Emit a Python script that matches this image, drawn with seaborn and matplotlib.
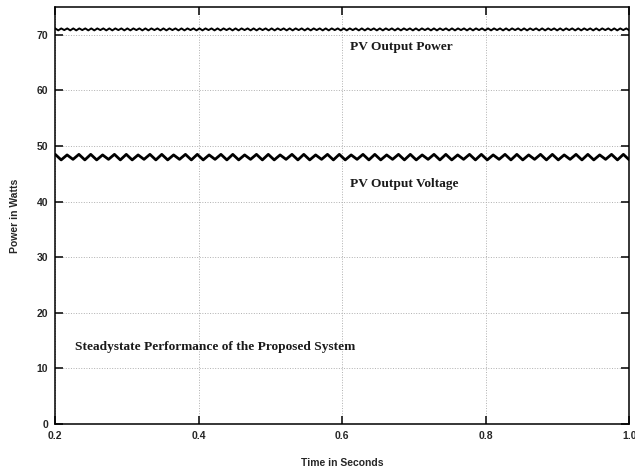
import numpy as np
import pandas as pd
import matplotlib
matplotlib.use("Agg")
import matplotlib.pyplot as plt
import seaborn as sns

# time window of the simulation trace
t_start, t_end = 0.2, 1.0

# PV output voltage ripple: alternating crest / trough values (one pair per cycle)
voltage_crests = [48.5, 48.4, 48.5, 48.5, 48.4, 48.5, 48.5, 48.4, 48.5, 48.5,
                  48.4, 48.5, 48.5, 48.4, 48.5, 48.5, 48.4, 48.5, 48.5, 48.4,
                  48.5, 48.5, 48.4, 48.5, 48.5, 48.4, 48.5, 48.5, 48.4, 48.5,
                  48.5, 48.4, 48.5, 48.5, 48.4, 48.5, 48.5, 48.4, 48.5, 48.5,
                  48.4, 48.5, 48.5, 48.4, 48.5, 48.5, 48.4, 48.5, 48.5]
voltage_troughs = [47.5, 47.6, 47.5, 47.5, 47.6, 47.5, 47.5, 47.6, 47.5, 47.5,
                   47.6, 47.5, 47.5, 47.6, 47.5, 47.5, 47.6, 47.5, 47.5, 47.6,
                   47.5, 47.5, 47.6, 47.5, 47.5, 47.6, 47.5, 47.5, 47.6, 47.5,
                   47.5, 47.6, 47.5, 47.5, 47.6, 47.5, 47.5, 47.6, 47.5, 47.5,
                   47.6, 47.5, 47.5, 47.6, 47.5, 47.5, 47.6, 47.5, 47.5]

# PV output power ripple: flat top with small dips (twice the voltage frequency)
power_tops = [71.15] * 96
power_dips = [70.8, 70.85, 70.8, 70.8, 70.85, 70.8, 70.8, 70.85, 70.8, 70.8,
              70.85, 70.8, 70.8, 70.85, 70.8, 70.8, 70.85, 70.8, 70.8, 70.85,
              70.8, 70.8, 70.85, 70.8, 70.8, 70.85, 70.8, 70.8, 70.85, 70.8,
              70.8, 70.85, 70.8, 70.8, 70.85, 70.8, 70.8, 70.85, 70.8, 70.8,
              70.85, 70.8, 70.8, 70.85, 70.8, 70.8, 70.85, 70.8, 70.8, 70.85,
              70.8, 70.8, 70.85, 70.8, 70.8, 70.85, 70.8, 70.8, 70.85, 70.8,
              70.8, 70.85, 70.8, 70.8, 70.85, 70.8, 70.8, 70.85, 70.8, 70.8,
              70.85, 70.8, 70.8, 70.85, 70.8, 70.8, 70.85, 70.8, 70.8, 70.85,
              70.8, 70.8, 70.85, 70.8, 70.8, 70.85, 70.8, 70.8, 70.85, 70.8,
              70.8, 70.85, 70.8, 70.8, 70.85, 70.8]

x_ticks = [0.2, 0.4, 0.6, 0.8, 1.0]
x_tick_labels = ["0.2", "0.4", "0.6", "0.8", "1.0"]
y_ticks = [0, 10, 20, 30, 40, 50, 60, 70]


def interleave(a, b):
    out = []
    for p, q in zip(a, b):
        out += [p, q]
    return out


v_vals = interleave(voltage_crests, voltage_troughs)
p_vals = interleave(power_tops, power_dips)
df_v = pd.DataFrame({"t": np.linspace(t_start, t_end, len(v_vals)), "y": v_vals})
df_p = pd.DataFrame({"t": np.linspace(t_start, t_end, len(p_vals)), "y": p_vals})

sns.set_style("ticks")
plt.rcParams["font.family"] = ["Liberation Sans", "DejaVu Sans"]

fig = plt.figure(figsize=(6.35, 4.68), dpi=100)
ax = fig.add_axes([0.087, 0.094, 0.904, 0.891])

sns.lineplot(data=df_p, x="t", y="y", ax=ax, color="black", lw=1.4)
sns.lineplot(data=df_v, x="t", y="y", ax=ax, color="black", lw=2.0)

ax.set_xlim(t_start, t_end)
ax.set_ylim(0, 75)
ax.set_xticks(x_ticks)
ax.set_xticklabels(x_tick_labels)
ax.set_yticks(y_ticks)
ax.grid(True, color="#b0b0b0", linestyle=":", linewidth=0.7)
ax.tick_params(direction="in", length=6, width=1.3, top=True, right=True,
               labelsize=7.5, pad=5)
for lab in ax.get_xticklabels() + ax.get_yticklabels():
    lab.set_fontweight("bold")
for sp in ax.spines.values():
    sp.set_color("black")
    sp.set_linewidth(1.1)

ax.set_xlabel("Time in Seconds", fontsize=7.5, fontweight="bold", labelpad=12)
ax.set_ylabel("Power in Watts", fontsize=7.5, fontweight="bold", labelpad=12)

serif = dict(family=["Liberation Serif", "DejaVu Serif"], fontweight="bold",
             fontsize=9.6, color="#1a1a1a")
ax.text(0.611, 67.8, "PV Output Power", va="center", **serif)
ax.text(0.611, 43.2, "PV Output Voltage", va="center", **serif)
ax.text(0.228, 13.9, "Steadystate Performance of the Proposed System",
        va="center", **serif)

fig.savefig("out.png", dpi=100)
